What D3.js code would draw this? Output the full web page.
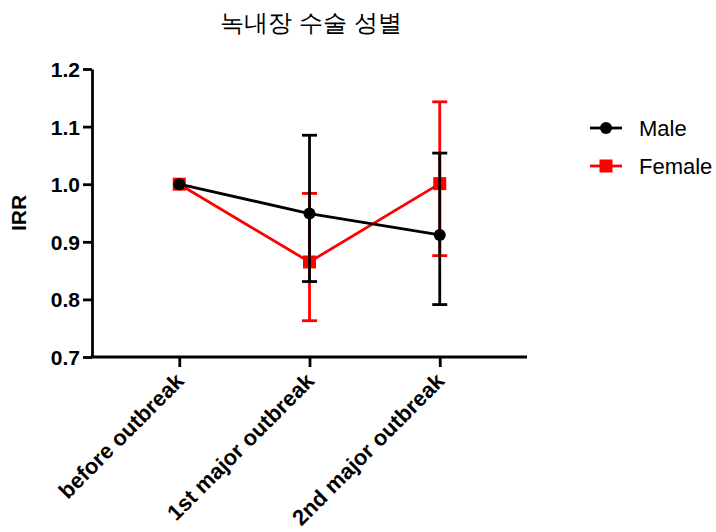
<!DOCTYPE html>
<html>
<head>
<meta charset="utf-8">
<script src="https://cdnjs.cloudflare.com/ajax/libs/d3/7.8.5/d3.min.js"></script>
<style>
  body { margin: 0; background: #fff; }
  text { font-family: "Liberation Sans", Arial, sans-serif; }
</style>
</head>
<body>
<div id="chart"></div>
<script>
var categories = ["before outbreak", "1st major outbreak", "2nd major outbreak"];
var maleValues = [1.0, 0.949, 0.912];
var maleLow = [null, 0.831, 0.791];
var maleHigh = [null, 1.085, 1.054];
var femaleValues = [1.0, 0.865, 1.001];
var femaleLow = [null, 0.763, 0.876];
var femaleHigh = [null, 0.984, 1.143];
var yTicks = [0.7, 0.8, 0.9, 1.0, 1.1, 1.2];

var width = 716, height = 532;
var plotLeft = 92, plotRight = 527, plotTop = 69, plotBottom = 357;

var svg = d3.select("#chart").append("svg")
    .attr("width", width)
    .attr("height", height);

var x = d3.scalePoint()
    .domain(categories)
    .range([plotLeft, plotRight])
    .padding(0.67);
var y = d3.scaleLinear()
    .domain([0.7, 1.2])
    .range([plotBottom, plotTop]);

// y axis
var yAxis = svg.append("g")
    .attr("transform", "translate(" + plotLeft + ",0)")
    .call(d3.axisLeft(y).tickValues(yTicks).tickFormat(d3.format(".1f")).tickSize(9).tickSizeOuter(0));
yAxis.select(".domain").attr("stroke", "#000").attr("stroke-width", 2.8);
yAxis.selectAll(".tick line").attr("stroke-width", 2.8);
yAxis.selectAll(".tick text")
    .attr("font-size", 21).attr("font-weight", "bold").attr("fill", "#000")
    .attr("x", -12).attr("dy", "0.36em");

// x axis
var xAxis = svg.append("g")
    .attr("transform", "translate(0," + plotBottom + ")")
    .call(d3.axisBottom(x).tickSize(10).tickSizeOuter(0));
xAxis.select(".domain").attr("stroke", "#000").attr("stroke-width", 2.8)
    .attr("d", "M" + (plotLeft - 1.4) + ",0H" + plotRight);
xAxis.selectAll(".tick line").attr("stroke-width", 2.8);
xAxis.selectAll(".tick text")
    .attr("font-size", 22).attr("font-weight", "bold").attr("fill", "#000")
    .attr("text-anchor", "end")
    .attr("dy", "0.35em")
    .attr("transform", "translate(0,20) rotate(-45)")
    .attr("x", 0).attr("y", 0);

// y label
svg.append("text")
    .attr("transform", "translate(26," + ((plotTop + plotBottom) / 2) + ") rotate(-90)")
    .attr("text-anchor", "middle")
    .attr("font-size", 21).attr("font-weight", "bold")
    .text("IRR");

// title
svg.append("text")
    .attr("x", 311).attr("y", 31)
    .attr("text-anchor", "middle")
    .attr("font-size", 24)
    .attr("font-family", "'Noto Sans CJK KR', sans-serif")
    .text("녹내장 수술 성별");

var line = d3.line()
    .x(function(d, i) { return x(categories[i]); })
    .y(function(d) { return y(d); });

function drawSeries(values, low, high, color, shape) {
    var g = svg.append("g");
    // error bars
    categories.forEach(function(c, i) {
        if (low[i] == null) return;
        var cx = x(c);
        g.append("line").attr("x1", cx).attr("x2", cx)
            .attr("y1", y(low[i])).attr("y2", y(high[i]))
            .attr("stroke", color).attr("stroke-width", 2.8);
        [low[i], high[i]].forEach(function(v) {
            g.append("line").attr("x1", cx - 7.5).attr("x2", cx + 7.5)
                .attr("y1", y(v)).attr("y2", y(v))
                .attr("stroke", color).attr("stroke-width", 2.8);
        });
    });
    g.append("path")
        .attr("d", line(values))
        .attr("fill", "none")
        .attr("stroke", color)
        .attr("stroke-width", 2.8);
    categories.forEach(function(c, i) {
        if (shape === "circle") {
            g.append("circle").attr("cx", x(c)).attr("cy", y(values[i]))
                .attr("r", 6).attr("fill", color);
        } else {
            g.append("rect").attr("x", x(c) - 6.5).attr("y", y(values[i]) - 6.5)
                .attr("width", 13).attr("height", 13).attr("fill", color);
        }
    });
}

drawSeries(femaleValues, femaleLow, femaleHigh, "#ff0000", "square");
drawSeries(maleValues, maleLow, maleHigh, "#000000", "circle");

// legend
var legend = [
    {name: "Male", color: "#000000", shape: "circle", y: 128},
    {name: "Female", color: "#ff0000", shape: "square", y: 166}
];
legend.forEach(function(d) {
    svg.append("line").attr("x1", 590).attr("x2", 622)
        .attr("y1", d.y).attr("y2", d.y)
        .attr("stroke", d.color).attr("stroke-width", 2.8);
    if (d.shape === "circle") {
        svg.append("circle").attr("cx", 606).attr("cy", d.y).attr("r", 6).attr("fill", d.color);
    } else {
        svg.append("rect").attr("x", 599.5).attr("y", d.y - 6.5).attr("width", 13).attr("height", 13).attr("fill", d.color);
    }
    svg.append("text").attr("x", 639).attr("y", d.y).attr("dy", "0.36em")
        .attr("font-size", 22).text(d.name);
});
</script>
</body>
</html>
